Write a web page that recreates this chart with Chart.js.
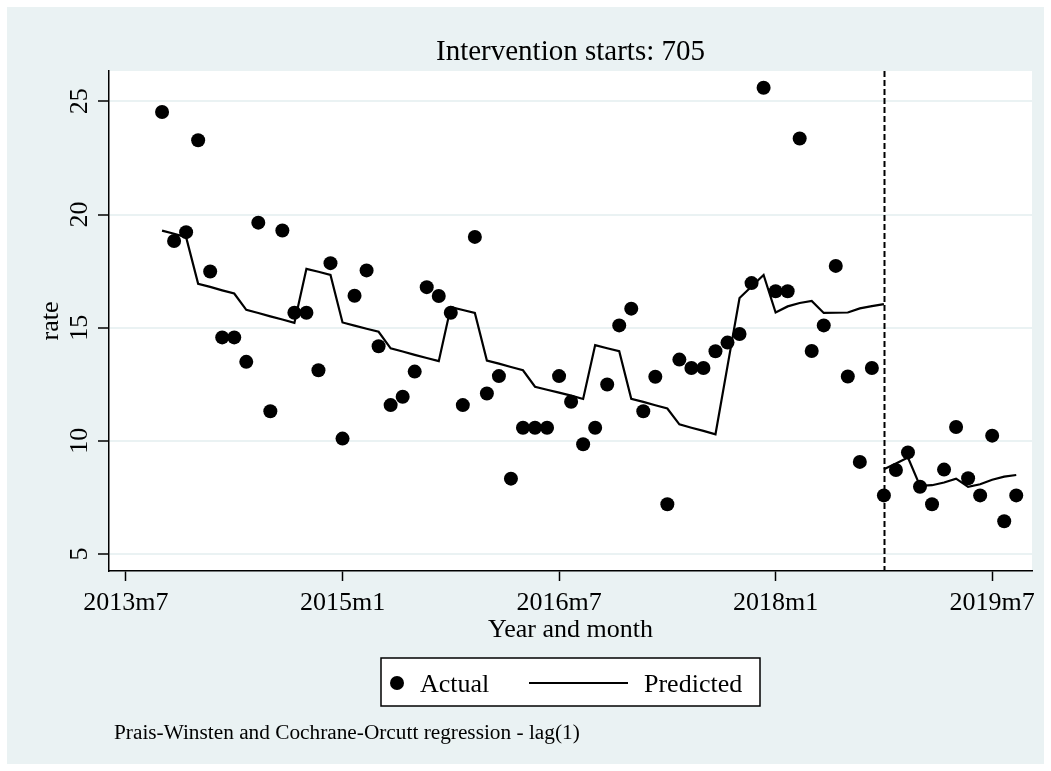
<!DOCTYPE html>
<html>
<head>
<meta charset="utf-8">
<script src="https://cdn.jsdelivr.net/npm/chart.js@4.4.1/dist/chart.umd.min.js"></script>
<style>
  html, body { margin: 0; padding: 0; background: #fff; }
  canvas { display: block; }
</style>
</head>
<body>
<canvas id="chart" width="1051" height="771"></canvas>
<script>
// Stata monthly dates (705 = 2018m10)
const months = [
  645, 646, 647, 648, 649, 650, 651, 652, 653, 654, 655, 656,
  657, 658, 659, 660, 661, 662, 663, 664, 665, 666, 667, 668,
  669, 670, 671, 672, 673, 674, 675, 676, 677, 678, 679, 680,
  681, 682, 683, 684, 685, 686, 687, 688, 689, 690, 691, 692,
  693, 694, 695, 696, 697, 698, 699, 700, 701, 702, 703, 704,
  705, 706, 707, 708, 709, 710, 711, 712, 713, 714, 715, 716
];
const actual = [
  24.53, 18.83, 19.22, 23.28, 17.48, 14.57, 14.57, 13.49, 19.64, 11.31, 19.29, 15.66,
  15.66, 13.12, 17.85, 10.10, 16.41, 17.53, 14.18, 11.58, 11.95, 13.06, 16.79, 16.40,
  15.66, 11.58, 19.01, 12.09, 12.86, 8.33, 10.58, 10.58, 10.58, 12.86, 11.73, 9.85,
  10.58, 12.49, 15.10, 15.84, 11.31, 12.83, 7.20, 13.59, 13.22, 13.22, 13.96, 14.34,
  14.72, 16.97, 25.60, 16.61, 16.61, 23.36, 13.97, 15.10, 17.73, 12.84, 9.07, 13.22,
  7.59, 8.71, 9.49, 7.97, 7.20, 8.73, 10.61, 8.35, 7.59, 10.23, 6.45, 7.59
];
// predicted, before the intervention (months 645..705)
const predictedPre = [
  19.29, 19.15, 19.00, 16.94, 16.80, 16.65, 16.51, 15.79, 15.65, 15.50, 15.36, 15.21,
  17.60, 17.47, 17.33, 15.23, 15.09, 14.95, 14.82, 14.09, 13.95, 13.80, 13.66, 13.52,
  15.91, 15.78, 15.65, 13.55, 13.41, 13.26, 13.12, 12.39, 12.26, 12.13, 12.00, 11.85,
  14.23, 14.09, 13.96, 11.86, 11.72, 11.57, 11.43, 10.73, 10.58, 10.44, 10.29, 13.30,
  16.31, 16.82, 17.33, 15.67, 15.94, 16.09, 16.18, 15.65, 15.66, 15.67, 15.85, 15.95,
  16.04
];
// predicted, after the intervention (months 705..716)
const predictedPost = [8.75, 9.00, 9.26, 8.01, 8.04, 8.16, 8.33, 7.97, 8.08, 8.28, 8.42, 8.49];

const interventionMonth = 705;
const xTickValues = [642, 660, 678, 696, 714];
const xTickLabels = ["2013m7", "2015m1", "2016m7", "2018m1", "2019m7"];
const yTickValues = [5, 10, 15, 20, 25];

const serif = '"Liberation Serif", "Times New Roman", serif';

const preMonths = months.slice(0, predictedPre.length);
const postMonths = months.slice(months.indexOf(interventionMonth));

const pairs = (xs, ys) => ys.map((y, i) => ({ x: xs[i], y: y }));

const extras = {
	id: "extras",
	beforeDraw(chart) {
		const { ctx, chartArea: a } = chart;
		ctx.save();
		ctx.fillStyle = "#ffffff";
		ctx.fillRect(0, 0, chart.width, chart.height);
		ctx.fillStyle = "#eaf2f3";
		ctx.fillRect(7, 7, chart.width - 14, chart.height - 14);
		ctx.fillStyle = "#ffffff";
		ctx.fillRect(a.left, a.top, a.right - a.left, a.bottom - a.top);
		ctx.restore();
	},
	beforeDatasetsDraw(chart) {
		const { ctx, chartArea: a } = chart;
		const x = Math.round(chart.scales.x.getPixelForValue(interventionMonth)) + 0.5;
		ctx.save();
		ctx.strokeStyle = "#000";
		ctx.lineWidth = 2;
		ctx.setLineDash([6, 3]);
		ctx.beginPath();
		ctx.moveTo(x, a.top);
		ctx.lineTo(x, a.bottom);
		ctx.stroke();
		ctx.restore();
	},
	afterDraw(chart) {
		const { ctx, chartArea: a } = chart;
		const ys = chart.scales.y;
		ctx.save();
		ctx.fillStyle = "#000";

		// y tick labels, rotated like Stata
		ctx.font = "26px " + serif;
		ctx.textAlign = "center";
		ctx.textBaseline = "alphabetic";
		yTickValues.forEach((v) => {
			ctx.save();
			ctx.translate(87, ys.getPixelForValue(v));
			ctx.rotate(-Math.PI / 2);
			ctx.fillText(String(v), 0, 0);
			ctx.restore();
		});

		// y axis title
		ctx.save();
		ctx.translate(58, (a.top + a.bottom) / 2);
		ctx.rotate(-Math.PI / 2);
		ctx.fillText("rate", 0, 0);
		ctx.restore();

		// x axis title
		ctx.fillText("Year and month", (a.left + a.right) / 2, 637);

		// title
		ctx.font = "29px " + serif;
		ctx.fillText("Intervention starts: 705", (a.left + a.right) / 2, 60);

		// legend
		ctx.fillStyle = "#fff";
		ctx.fillRect(381, 658, 379, 48);
		ctx.strokeStyle = "#000";
		ctx.lineWidth = 1.5;
		ctx.strokeRect(381, 658, 379, 48);
		ctx.fillStyle = "#000";
		ctx.beginPath();
		ctx.arc(397, 683, 7, 0, Math.PI * 2);
		ctx.fill();
		ctx.lineWidth = 2;
		ctx.beginPath();
		ctx.moveTo(529, 683);
		ctx.lineTo(628, 683);
		ctx.stroke();
		ctx.font = "26px " + serif;
		ctx.textAlign = "left";
		ctx.fillText("Actual", 420, 692);
		ctx.fillText("Predicted", 644, 692);

		// note
		ctx.font = "21.3px " + serif;
		ctx.fillText("Prais-Winsten and Cochrane-Orcutt regression - lag(1)", 114, 739);
		ctx.restore();
	},
};

const data = {
	datasets: [
		{
			label: "Actual",
			data: pairs(months, actual),
			showLine: false,
			pointRadius: 7,
			pointHoverRadius: 7,
			pointBackgroundColor: "#000",
			pointBorderWidth: 0,
			order: 1,
		},
		{
			label: "Predicted",
			data: pairs(preMonths, predictedPre),
			showLine: true,
			borderColor: "#000",
			borderWidth: 2.2,
			pointRadius: 0,
			tension: 0,
			order: 2,
		},
		{
			label: "Predicted (post)",
			data: pairs(postMonths, predictedPost),
			showLine: true,
			borderColor: "#000",
			borderWidth: 2.2,
			pointRadius: 0,
			tension: 0,
			order: 2,
		},
	],
};

const options = {
	responsive: false,
	animation: false,
	devicePixelRatio: 1,
	layout: {
		padding: { left: 0, right: 19, top: 71, bottom: 0 },
	},
	plugins: {
		legend: { display: false },
		tooltip: { enabled: false },
		title: { display: false },
	},
	scales: {
		x: {
			type: "linear",
			min: 640.59,
			max: 717.31,
			afterBuildTicks: (scale) => {
				scale.ticks = xTickValues.map((v) => ({ value: v }));
			},
			afterFit: (scale) => {
				scale.height = 200;
			},
			ticks: {
				autoSkip: false,
				maxRotation: 0,
				padding: 7,
				color: "#000",
				font: { family: serif, size: 26 },
				callback: (value) => xTickLabels[xTickValues.indexOf(value)],
			},
			grid: {
				drawOnChartArea: false,
				drawTicks: true,
				tickLength: 10,
				tickColor: "#000",
				tickWidth: 1.5,
			},
			border: { display: true, color: "#000", width: 1.5 },
		},
		y: {
			type: "linear",
			min: 4.25,
			max: 26.34,
			afterBuildTicks: (scale) => {
				scale.ticks = yTickValues.map((v) => ({ value: v }));
			},
			afterFit: (scale) => {
				scale.width = 109;
			},
			ticks: { display: false },
			grid: {
				color: "#eaf2f3",
				lineWidth: 2,
				drawTicks: true,
				tickLength: 11,
				tickColor: "#000",
				tickWidth: 1.5,
			},
			border: { display: true, color: "#000", width: 1.5 },
		},
	},
};

new Chart(document.getElementById("chart"), {
	type: "scatter",
	data: data,
	options: options,
	plugins: [extras],
});
</script>
</body>
</html>
